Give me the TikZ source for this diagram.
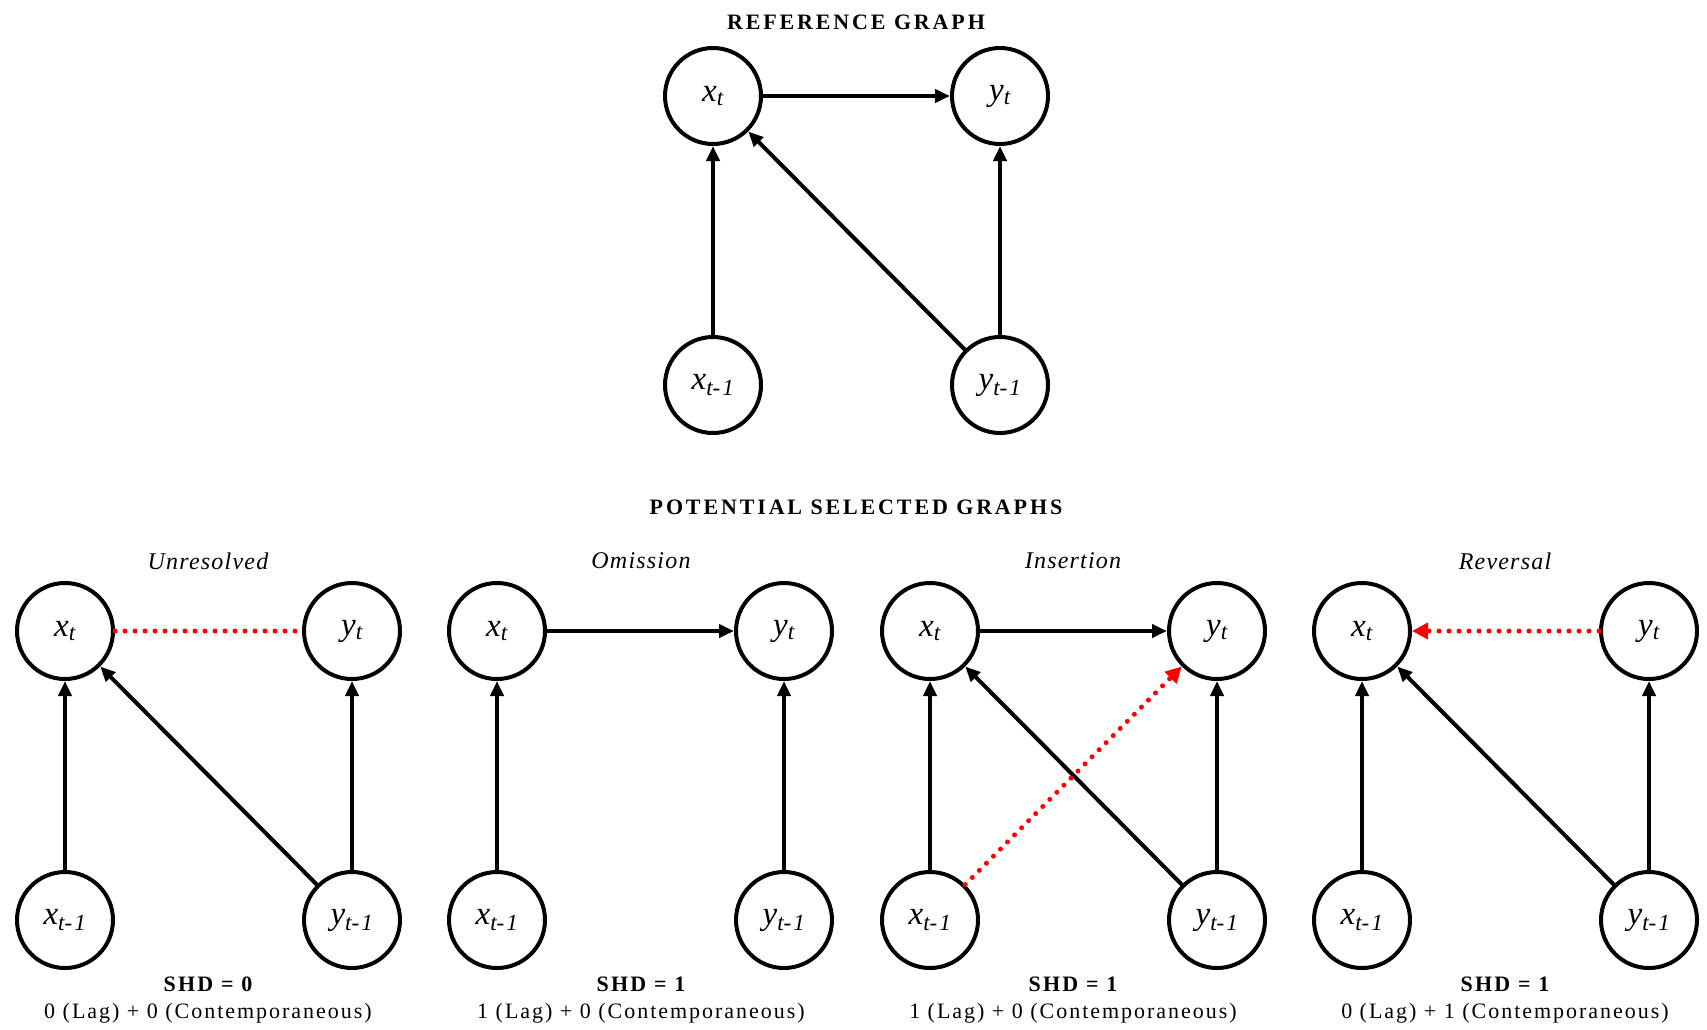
\documentclass[tikz,border=0pt]{standalone}
\usepackage{fontspec}
\setmainfont{Liberation Serif}
\usetikzlibrary{arrows.meta}
\newcommand\mkpanel[3]{%
  \node[vnode] (#1xt) at (#2,#3) {x\textsubscript{t}};
  \node[vnode] (#1yt) at (#2+287,#3) {y\textsubscript{t}};
  \node[vnode] (#1xl) at (#2,#3+289) {x\textsubscript{t-\kern2pt 1}};
  \node[vnode] (#1yl) at (#2+287,#3+289) {y\textsubscript{t-\kern2pt 1}};
}
\begin{document}
\begin{tikzpicture}[x=1pt,y=-1pt,
  vnode/.style={circle,draw,line width=4pt,minimum size=96pt,inner sep=0pt,
    font=\fontsize{33}{36}\selectfont\itshape},
  edge/.style={line width=4pt,-{Triangle[length=15pt,width=13pt]}},
  redline/.style={red,line width=5pt,line cap=round,dash pattern=on 0pt off 10pt},
  redarrow/.style={redline,-{Triangle[length=16pt,width=16pt]}},
  title/.style={font=\fontsize{22}{26}\selectfont\bfseries\addfontfeature{LetterSpace=13}},
  caption/.style={font=\fontsize{24}{28}\selectfont\itshape\addfontfeature{LetterSpace=5}},
  shd/.style={font=\fontsize{22}{26}\selectfont\bfseries\addfontfeature{LetterSpace=10}},
  detail/.style={font=\fontsize{22}{26}\selectfont\addfontfeature{LetterSpace=9}}
]
\useasboundingbox (0,0) rectangle (1707,1029);

% Reference graph
\node[title] (t1) at (856,22) {REFERENCE GRAPH};
\mkpanel{r}{713}{96}
\draw[edge] (rxt) -- (ryt);
\draw[edge] (rxl) -- (rxt);
\draw[edge] (ryl) -- (rxt);
\draw[edge] (ryl) -- (ryt);

\node[title] (t2) at (856,507) {POTENTIAL SELECTED GRAPHS};

% Unresolved
\node[caption] (c1) at (208,561) {Unresolved};
\mkpanel{a}{65}{631}
\draw[redline] (axt) -- (ayt);
\draw[edge] (axl) -- (axt);
\draw[edge] (ayl) -- (axt);
\draw[edge] (ayl) -- (ayt);
\node[shd] (s1) at (208,984) {SHD = 0};
\node[detail] (d1) at (208,1013) {0 (Lag) + 0 (Contemporaneous)};

% Omission
\node[caption] (c2) at (641,561) {Omission};
\mkpanel{b}{497}{631}
\draw[edge] (bxt) -- (byt);
\draw[edge] (bxl) -- (bxt);
\draw[edge] (byl) -- (byt);
\node[shd] (s2) at (641,984) {SHD = 1};
\node[detail] (d2) at (641,1013) {1 (Lag) + 0 (Contemporaneous)};

% Insertion
\node[caption] (c3) at (1073,561) {Insertion};
\mkpanel{c}{930}{631}
\draw[edge] (cxt) -- (cyt);
\draw[edge] (cxl) -- (cxt);
\draw[edge] (cyl) -- (cxt);
\draw[edge] (cyl) -- (cyt);
\draw[redarrow] (cxl) -- (cyt);
\node[shd] (s3) at (1073,984) {SHD = 1};
\node[detail] (d3) at (1073,1013) {1 (Lag) + 0 (Contemporaneous)};

% Reversal
\node[caption] (c4) at (1505,561) {Reversal};
\mkpanel{d}{1362}{631}
\draw[redarrow] (dyt) -- (dxt);
\draw[edge] (dxl) -- (dxt);
\draw[edge] (dyl) -- (dxt);
\draw[edge] (dyl) -- (dyt);
\node[shd] (s4) at (1505,984) {SHD = 1};
\node[detail] (d4) at (1505,1013) {0 (Lag) + 1 (Contemporaneous)};
\end{tikzpicture}
\end{document}
